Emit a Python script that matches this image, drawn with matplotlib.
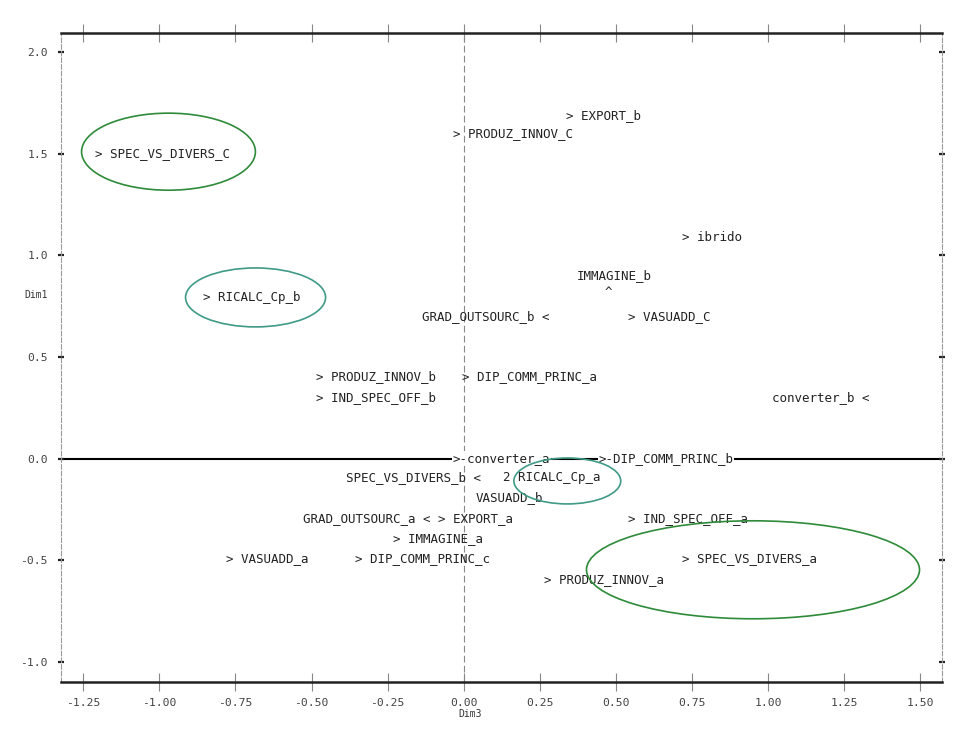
import matplotlib
matplotlib.use("Agg")
import matplotlib.pyplot as plt
from matplotlib.patches import Ellipse

# point labels (text, x, y, alignment)
labels = ["> EXPORT_b", "> PRODUZ_INNOV_C", "> SPEC_VS_DIVERS_C", "> ibrido",
          "IMMAGINE_b", "^", "> RICALC_Cp_b", "GRAD_OUTSOURC_b <", "> VASUADD_C",
          "> PRODUZ_INNOV_b", "> DIP_COMM_PRINC_a", "> IND_SPEC_OFF_b",
          "converter_b <", "SPEC_VS_DIVERS_b <", "2 RICALC_Cp_a", "VASUADD_b",
          "GRAD_OUTSOURC_a <", "> EXPORT_a", "> IND_SPEC_OFF_a", "> IMMAGINE_a",
          "> VASUADD_a", "> DIP_COMM_PRINC_c", "> SPEC_VS_DIVERS_a",
          "> PRODUZ_INNOV_a"]
dim3 = [0.337, -0.034, -1.210, 0.718,
        0.370, 0.462, -0.858, 0.283, 0.541,
        -0.484, -0.007, -0.484,
        1.333, 0.058, 0.130, 0.038,
        -0.109, -0.086, 0.541, -0.234,
        -0.780, -0.356, 0.718,
        0.265]
dim1 = [1.690, 1.597, 1.499, 1.090,
        0.903, 0.815, 0.795, 0.697, 0.697,
        0.402, 0.402, 0.299,
        0.299, -0.095, -0.095, -0.193,
        -0.297, -0.297, -0.297, -0.395,
        -0.493, -0.493, -0.493,
        -0.597]
align = ["left", "left", "left", "left",
         "left", "left", "left", "right", "left",
         "left", "left", "left",
         "right", "right", "left", "left",
         "right", "left", "left", "left",
         "left", "left", "left",
         "left"]

# labels sitting on the Dim1 = 0 reference line
line_labels = [">-converter_a", ">-DIP_COMM_PRINC_b"]
line_x = [-0.037, 0.442]
line_y = [0.0, 0.0]

# highlighted groups (center x, center y, width, height, colour)
ell_x = [-0.970, -0.684, 0.340, 0.950]
ell_y = [1.510, 0.793, -0.110, -0.547]
ell_w = [0.571, 0.460, 0.351, 1.094]
ell_h = [0.379, 0.290, 0.226, 0.482]
ell_c = ["#2e8b3a", "#3f9a86", "#3f9a86", "#2e8b3a"]

xticks = [-1.25, -1.00, -0.75, -0.50, -0.25, 0.00, 0.25, 0.50, 0.75, 1.00, 1.25, 1.50]
yticks = [-1.0, -0.5, 0.0, 0.5, 1.0, 1.5, 2.0]

mono = "DejaVu Sans Mono"
txt_col = "#222222"
fsize = 9.0

fig = plt.figure(figsize=(9.75, 7.53), dpi=100)
ax = fig.add_axes([0.0626, 0.0943, 0.9036, 0.8619])
ax.set_xlim(-1.323, 1.571)
ax.set_ylim(-1.099, 2.094)

# reference lines
ax.axhline(0, color="black", linewidth=1.5, zorder=1)
ax.axvline(0, color="#888888", linewidth=0.8, linestyle=(0, (6, 3)), zorder=1)

for s, x, y, ha in zip(labels, dim3, dim1, align):
    ax.text(x, y, s, ha=ha, va="center", family=mono, fontsize=fsize,
            color=txt_col, zorder=3)

for s, x, y in zip(line_labels, line_x, line_y):
    ax.text(x, y, s, ha="left", va="center", family=mono, fontsize=fsize,
            color=txt_col, zorder=3,
            bbox=dict(facecolor="white", edgecolor="none", pad=0.5))

for x, y, w, h, c in zip(ell_x, ell_y, ell_w, ell_h, ell_c):
    ax.add_patch(Ellipse((x, y), w, h, fill=False, edgecolor=c,
                         linewidth=1.2, zorder=4))

# frame: solid top/bottom, dashed grey sides
for side in ["top", "bottom"]:
    ax.spines[side].set_linewidth(1.8)
    ax.spines[side].set_color("#222222")
for side in ["left", "right"]:
    ax.spines[side].set_linestyle((0, (4, 2)))
    ax.spines[side].set_linewidth(0.8)
    ax.spines[side].set_color("#999999")

ax.set_xticks(xticks)
ax.set_xticklabels([f"{v:.2f}" for v in xticks])
ax.set_yticks(yticks)
ax.set_yticklabels([f"{v:.1f}" for v in yticks])
ax.tick_params(axis="x", direction="inout", length=13, width=0.8,
               color="#888888", top=True, pad=5, labelsize=8.2,
               labelcolor="#444444")
ax.tick_params(axis="y", direction="inout", length=5, width=1.6,
               color="#222222", right=True, pad=7, labelsize=8.2,
               labelcolor="#444444")
for lab in ax.get_xticklabels() + ax.get_yticklabels():
    lab.set_family(mono)

fig.text(36 / 975, 1 - 295 / 753, "Dim1", ha="center", va="center",
         family=mono, fontsize=7, color="#333333")
fig.text(470 / 975, 1 - 714 / 753, "Dim3", ha="center", va="center",
         family=mono, fontsize=7, color="#333333")

plt.savefig("out.png", dpi=100, facecolor="white")
